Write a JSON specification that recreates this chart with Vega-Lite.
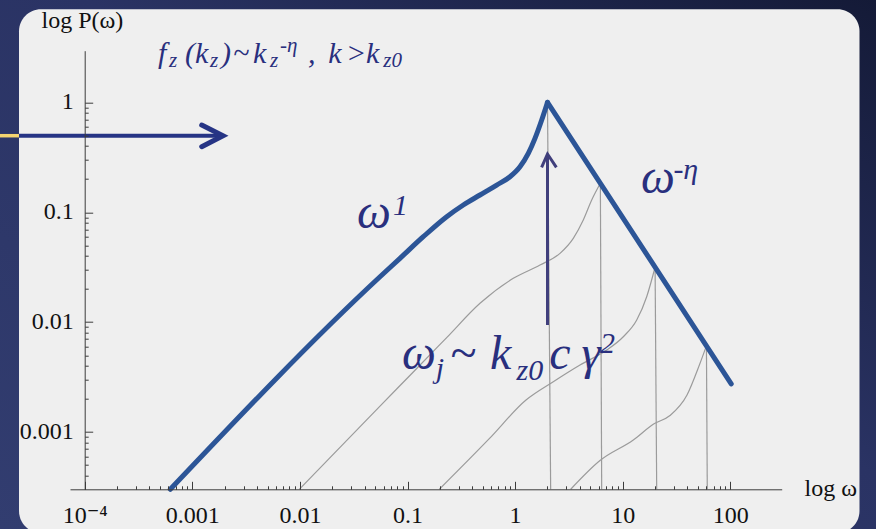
{
  "$schema": "https://vega.github.io/schema/vega-lite/v6.json",
  "width": 711.7,
  "height": 438.6,
  "autosize": {"type": "none"},
  "padding": {"left": 70, "top": 50.7, "right": 94.3, "bottom": 39.7},
  "background": "#283162",
  "config": {
    "view": {"stroke": null},
    "axis": {
      "grid": false,
      "domainColor": "#3c3c3c",
      "domainWidth": 1,
      "tickColor": "#3c3c3c",
      "tickWidth": 1,
      "labelFont": "'Liberation Serif', 'DejaVu Serif', serif",
      "labelFontSize": 24,
      "labelColor": "#111111",
      "labelOverlap": false,
      "labelFlush": false,
      "labelBound": false,
      "titleFont": "'Liberation Serif', 'DejaVu Serif', serif",
      "titleFontSize": 24,
      "titleFontWeight": "normal",
      "titleColor": "#111111"
    }
  },
  "datasets": {
    "backdrop": [{"w": 1.632e-5, "w2": 2260, "p": 8.53, "p2": 0.000131}],
    "panel": [{"w": 2.451e-5, "w2": 1587.6, "p": 7.019, "p2": 0.0001205}],
    "pointers": [
      {"part": "lead", "k": 0, "w": 1.632e-5, "p": 0.4967},
      {"part": "lead", "k": 1, "w": 2.451e-5, "p": 0.4967},
      {"part": "shaft", "k": 0, "w": 2.451e-5, "p": 0.4967},
      {"part": "shaft", "k": 1, "w": 0.001888, "p": 0.4967},
      {"part": "head", "k": 0, "w": 0.0012233, "p": 0.6215},
      {"part": "head", "k": 1, "w": 0.001929, "p": 0.4967},
      {"part": "head", "k": 2, "w": 0.0012233, "p": 0.3945},
      {"part": "rise", "k": 0, "w": 2.0, "p": 0.00941},
      {"part": "rise", "k": 1, "w": 2.0, "p": 0.33},
      {"part": "tip", "k": 0, "w": 1.7633, "p": 0.2562},
      {"part": "tip", "k": 1, "w": 2.0, "p": 0.3385},
      {"part": "tip", "k": 2, "w": 2.4186, "p": 0.2562}
    ],
    "spectrum_rise": [
      {"w": 0.0006245, "p": 0.0003013},
      {"w": 0.05551, "p": 0.02588},
      {"w": 0.08517, "p": 0.03806},
      {"w": 0.1402, "p": 0.05984},
      {"w": 0.2313, "p": 0.09102},
      {"w": 0.3301, "p": 0.1163},
      {"w": 0.4718, "p": 0.1434},
      {"w": 0.6745, "p": 0.1768},
      {"w": 0.8966, "p": 0.2104},
      {"w": 1.1104, "p": 0.2594},
      {"w": 1.3264, "p": 0.3436},
      {"w": 1.5308, "p": 0.4703},
      {"w": 1.7669, "p": 0.6904},
      {"w": 2.0, "p": 1.0}
    ],
    "spectrum_fall": [
      {"w": 2.0, "p": 1.0},
      {"w": 102, "p": 0.002746}
    ],
    "partials": [
      {"j": "A", "w": 0.00987, "p": 0.0003013},
      {"j": "A", "w": 0.05551, "p": 0.00172},
      {"j": "A", "w": 0.1132, "p": 0.00352},
      {"j": "A", "w": 0.2313, "p": 0.00723},
      {"j": "A", "w": 0.4718, "p": 0.01483},
      {"j": "A", "w": 0.9623, "p": 0.02503},
      {"j": "A", "w": 1.7036, "p": 0.03308},
      {"j": "A", "w": 2.6146, "p": 0.04227},
      {"j": "A", "w": 3.474, "p": 0.05788},
      {"j": "A", "w": 4.303, "p": 0.08492},
      {"j": "A", "w": 5.151, "p": 0.1291},
      {"j": "A", "w": 6.2, "p": 0.1832},
      {"j": "B", "w": 0.1975, "p": 0.0003013},
      {"j": "B", "w": 0.5756, "p": 0.00087},
      {"j": "B", "w": 1.2628, "p": 0.001955},
      {"j": "B", "w": 2.2646, "p": 0.002869},
      {"j": "B", "w": 4.0105, "p": 0.004071},
      {"j": "B", "w": 7.1017, "p": 0.005573},
      {"j": "B", "w": 10.13, "p": 0.007364},
      {"j": "B", "w": 13.5, "p": 0.01045},
      {"j": "B", "w": 16.71, "p": 0.01702},
      {"j": "B", "w": 20.0, "p": 0.0316},
      {"j": "C", "w": 3.287, "p": 0.0003013},
      {"j": "C", "w": 6.152, "p": 0.00055},
      {"j": "C", "w": 12.55, "p": 0.000846},
      {"j": "C", "w": 19.38, "p": 0.001183},
      {"j": "C", "w": 27.52, "p": 0.001413},
      {"j": "C", "w": 39.6, "p": 0.002171},
      {"j": "C", "w": 51.6, "p": 0.004071},
      {"j": "C", "w": 60.0, "p": 0.006086}
    ],
    "drops": [
      {"j": "1", "w": 2.0, "p": 1.0},
      {"j": "1", "w": 2.14, "p": 0.0003013},
      {"j": "2", "w": 6.2, "p": 0.1832},
      {"j": "2", "w": 6.38, "p": 0.0003013},
      {"j": "3", "w": 20.0, "p": 0.0316},
      {"j": "3", "w": 20.7, "p": 0.0003013},
      {"j": "4", "w": 60.0, "p": 0.006086},
      {"j": "4", "w": 61.1, "p": 0.0003013}
    ],
    "notes": [
      {"role": "formula", "t": "f", "w": 0.0004799, "p": 2.293},
      {"role": "formula", "t": "(k", "w": 0.0008555, "p": 2.293},
      {"role": "formula", "t": ")", "w": 0.001848, "p": 2.293},
      {"role": "formula", "t": "~", "w": 0.002389, "p": 2.293},
      {"role": "formula", "t": "k", "w": 0.003665, "p": 2.293},
      {"role": "formula", "t": ",", "w": 0.01189, "p": 2.293},
      {"role": "formula", "t": "k", "w": 0.01836, "p": 2.293},
      {"role": "formula", "t": ">", "w": 0.02682, "p": 2.293},
      {"role": "formula", "t": "k", "w": 0.04114, "p": 2.293},
      {"role": "formula-script", "t": "z", "w": 0.0006074, "p": 2.117},
      {"role": "formula-script", "t": "z", "w": 0.001461, "p": 2.117},
      {"role": "formula-script", "t": "z", "w": 0.005274, "p": 2.117},
      {"role": "formula-script", "t": "-η", "w": 0.006531, "p": 2.87},
      {"role": "formula-script", "t": "z0", "w": 0.05958, "p": 2.117},
      {"role": "big", "t": "ω", "w": 0.03394, "p": 0.07183},
      {"role": "big", "t": "ω", "w": 14.8, "p": 0.1495},
      {"role": "big", "t": "ω", "w": 0.08887, "p": 0.003743},
      {"role": "big", "t": "~", "w": 0.2483, "p": 0.003743},
      {"role": "big", "t": "k", "w": 0.5843, "p": 0.003743},
      {"role": "big", "t": "c", "w": 2.082, "p": 0.003743},
      {"role": "big", "t": "γ", "w": 4.13, "p": 0.003743},
      {"role": "big-script", "t": "1", "w": 0.07332, "p": 0.0943},
      {"role": "big-script", "t": "-η", "w": 29.58, "p": 0.2004},
      {"role": "big-script", "t": "j", "w": 0.1832, "p": 0.0031},
      {"role": "big-script", "t": "z0", "w": 1.0304, "p": 0.002973},
      {"role": "big-script", "t": "2", "w": 6.152, "p": 0.005234}
    ]
  },
  "resolve": {"axis": {"x": "independent", "y": "independent"}},
  "layer": [
    {
      "data": {"name": "backdrop"},
      "mark": {
        "type": "rect",
        "fill": {
          "gradient": "linear", "x1": 0, "y1": 1, "x2": 1, "y2": 0,
          "stops": [
            {"offset": 0, "color": "#323d70"},
            {"offset": 0.55, "color": "#2a3364"},
            {"offset": 1, "color": "#141a37"}
          ]
        }
      },
      "encoding": {
        "x": {"field": "w", "type": "quantitative", "scale": {"type": "log", "domain": [7.3e-5, 300.4], "nice": false}, "axis": null},
        "x2": {"field": "w2"},
        "y": {"field": "p", "type": "quantitative", "scale": {"type": "log", "domain": [0.0003013, 2.948], "nice": false}, "axis": null},
        "y2": {"field": "p2"}
      }
    },
    {
      "data": {"name": "panel"},
      "mark": {"type": "rect", "fill": "#efefef", "cornerRadius": 22},
      "encoding": {
        "x": {"field": "w", "type": "quantitative", "scale": {"type": "log", "domain": [7.3e-5, 300.4], "nice": false}, "axis": null},
        "x2": {"field": "w2"},
        "y": {"field": "p", "type": "quantitative", "scale": {"type": "log", "domain": [0.0003013, 2.948], "nice": false}, "axis": null},
        "y2": {"field": "p2"}
      }
    },
    {
      "data": {"name": "pointers"},
      "transform": [{"filter": "datum.part === 'lead'"}],
      "mark": {"type": "line", "color": "#f4d470", "strokeWidth": 3.5},
      "encoding": {
        "x": {"field": "w", "type": "quantitative", "scale": {"type": "log", "domain": [7.3e-5, 300.4], "nice": false}, "axis": null},
        "y": {"field": "p", "type": "quantitative", "scale": {"type": "log", "domain": [0.0003013, 2.948], "nice": false}, "axis": null},
        "order": {"field": "k", "type": "quantitative"}
      }
    },
    {
      "data": {"name": "pointers"},
      "transform": [{"filter": "datum.part === 'shaft'"}],
      "mark": {"type": "line", "color": "#263485", "strokeWidth": 4},
      "encoding": {
        "x": {"field": "w", "type": "quantitative", "scale": {"type": "log", "domain": [7.3e-5, 300.4], "nice": false}, "axis": null},
        "y": {"field": "p", "type": "quantitative", "scale": {"type": "log", "domain": [0.0003013, 2.948], "nice": false}, "axis": null},
        "order": {"field": "k", "type": "quantitative"}
      }
    },
    {
      "data": {"name": "pointers"},
      "transform": [{"filter": "datum.part === 'head'"}],
      "mark": {"type": "line", "color": "#263485", "strokeWidth": 5, "strokeJoin": "miter", "strokeCap": "round"},
      "encoding": {
        "x": {"field": "w", "type": "quantitative", "scale": {"type": "log", "domain": [7.3e-5, 300.4], "nice": false}, "axis": null},
        "y": {"field": "p", "type": "quantitative", "scale": {"type": "log", "domain": [0.0003013, 2.948], "nice": false}, "axis": null},
        "order": {"field": "k", "type": "quantitative"}
      }
    },
    {
      "data": {"name": "partials"},
      "mark": {"type": "line", "color": "#9b9b9b", "strokeWidth": 1.2, "interpolate": "monotone"},
      "encoding": {
        "x": {
          "field": "w", "type": "quantitative",
          "scale": {"type": "log", "domain": [7.3e-5, 300.4], "nice": false},
          "axis": {
            "orient": "bottom", "zindex": 1, "labels": false, "domain": false, "title": null, "tickSize": -3.5,
            "values": [0.0002, 0.0003, 0.0004, 0.0005, 0.0006, 0.0007, 0.0008, 0.0009,
                       0.002, 0.003, 0.004, 0.005, 0.006, 0.007, 0.008, 0.009,
                       0.02, 0.03, 0.04, 0.05, 0.06, 0.07, 0.08, 0.09,
                       0.2, 0.3, 0.4, 0.5, 0.6, 0.7, 0.8, 0.9,
                       2, 3, 4, 5, 6, 7, 8, 9,
                       20, 30, 40, 50, 60, 70, 80, 90]
          }
        },
        "y": {
          "field": "p", "type": "quantitative",
          "scale": {"type": "log", "domain": [0.0003013, 2.948], "nice": false},
          "axis": {
            "orient": "left", "zindex": 1, "offset": -14.7, "labels": false, "domain": false, "title": null, "tickSize": -3.5,
            "values": [0.0004, 0.0005, 0.0006, 0.0007, 0.0008, 0.0009,
                       0.002, 0.003, 0.004, 0.005, 0.006, 0.007, 0.008, 0.009,
                       0.02, 0.03, 0.04, 0.05, 0.06, 0.07, 0.08, 0.09,
                       0.2, 0.3, 0.4, 0.5, 0.6, 0.7, 0.8, 0.9]
          }
        },
        "detail": {"field": "j"}
      }
    },
    {
      "data": {"name": "drops"},
      "mark": {"type": "line", "color": "#9b9b9b", "strokeWidth": 1.2},
      "encoding": {
        "x": {
          "field": "w", "type": "quantitative",
          "scale": {"type": "log", "domain": [7.3e-5, 300.4], "nice": false},
          "axis": {"orient": "bottom", "zindex": 1, "labels": false, "domain": false, "title": null, "tickSize": -8,
                   "values": [0.0001, 0.001, 0.01, 0.1, 1, 10, 100]}
        },
        "y": {
          "field": "p", "type": "quantitative",
          "scale": {"type": "log", "domain": [0.0003013, 2.948], "nice": false},
          "axis": {"orient": "left", "zindex": 1, "offset": -14.7, "labels": false, "domain": false, "title": null, "tickSize": -8,
                   "values": [0.001, 0.01, 0.1, 1]}
        },
        "detail": {"field": "j"}
      }
    },
    {
      "data": {"name": "pointers"},
      "transform": [{"filter": "datum.part === 'rise' || datum.part === 'tip'"}],
      "mark": {"type": "line", "color": "#403f7c", "strokeWidth": 3, "strokeJoin": "miter"},
      "encoding": {
        "x": {"field": "w", "type": "quantitative", "scale": {"type": "log", "domain": [7.3e-5, 300.4], "nice": false}, "axis": null},
        "y": {"field": "p", "type": "quantitative", "scale": {"type": "log", "domain": [0.0003013, 2.948], "nice": false}, "axis": null},
        "detail": {"field": "part"},
        "order": {"field": "k", "type": "quantitative"}
      }
    },
    {
      "data": {"name": "spectrum_rise"},
      "mark": {"type": "line", "color": "#2c5597", "strokeWidth": 5, "interpolate": "monotone", "strokeCap": "round"},
      "encoding": {
        "x": {
          "field": "w", "type": "quantitative",
          "scale": {"type": "log", "domain": [7.3e-5, 300.4], "nice": false},
          "axis": {
            "orient": "bottom", "zindex": 1, "ticks": false, "domain": true,
            "values": [0.0001, 0.001, 0.01, 0.1, 1, 10, 100],
            "labelExpr": "datum.value < 0.0005 ? '10⁻⁴' : format(datum.value, '~g')",
            "labelBaseline": "alphabetic", "labelPadding": 33.4,
            "title": "log ω", "titleAlign": "left", "titleBaseline": "alphabetic",
            "titleX": 734, "titleY": 5.7
          }
        },
        "y": {
          "field": "p", "type": "quantitative",
          "scale": {"type": "log", "domain": [0.0003013, 2.948], "nice": false},
          "axis": {
            "orient": "left", "zindex": 1, "offset": -14.7, "ticks": false, "domain": true,
            "values": [0.001, 0.01, 0.1, 1],
            "format": "~g",
            "labelBaseline": "alphabetic", "labelOffset": 6, "labelPadding": 11.4,
            "title": "log P(ω)", "titleAngle": 0, "titleAlign": "left", "titleBaseline": "alphabetic",
            "titleX": -43.7, "titleY": -23.7
          }
        }
      }
    },
    {
      "data": {"name": "spectrum_fall"},
      "mark": {"type": "line", "color": "#2c5597", "strokeWidth": 5, "strokeCap": "round"},
      "encoding": {
        "x": {"field": "w", "type": "quantitative", "scale": {"type": "log", "domain": [7.3e-5, 300.4], "nice": false}, "axis": null},
        "y": {"field": "p", "type": "quantitative", "scale": {"type": "log", "domain": [0.0003013, 2.948], "nice": false}, "axis": null}
      }
    },
    {
      "data": {"name": "notes"},
      "transform": [{"filter": "datum.role === 'formula'"}],
      "mark": {"type": "text", "font": "'Liberation Serif', 'DejaVu Serif', serif", "fontStyle": "italic", "fontSize": 30, "color": "#292f7e", "align": "left", "baseline": "alphabetic"},
      "encoding": {
        "x": {"field": "w", "type": "quantitative", "scale": {"type": "log", "domain": [7.3e-5, 300.4], "nice": false}, "axis": null},
        "y": {"field": "p", "type": "quantitative", "scale": {"type": "log", "domain": [0.0003013, 2.948], "nice": false}, "axis": null},
        "text": {"field": "t"}
      }
    },
    {
      "data": {"name": "notes"},
      "transform": [{"filter": "datum.role === 'formula-script'"}],
      "mark": {"type": "text", "font": "'Liberation Serif', 'DejaVu Serif', serif", "fontStyle": "italic", "fontSize": 21, "color": "#292f7e", "align": "left", "baseline": "alphabetic"},
      "encoding": {
        "x": {"field": "w", "type": "quantitative", "scale": {"type": "log", "domain": [7.3e-5, 300.4], "nice": false}, "axis": null},
        "y": {"field": "p", "type": "quantitative", "scale": {"type": "log", "domain": [0.0003013, 2.948], "nice": false}, "axis": null},
        "text": {"field": "t"}
      }
    },
    {
      "data": {"name": "notes"},
      "transform": [{"filter": "datum.role === 'big'"}],
      "mark": {"type": "text", "font": "'Liberation Serif', 'DejaVu Serif', serif", "fontStyle": "italic", "fontSize": 48, "color": "#292f7e", "align": "left", "baseline": "alphabetic"},
      "encoding": {
        "x": {"field": "w", "type": "quantitative", "scale": {"type": "log", "domain": [7.3e-5, 300.4], "nice": false}, "axis": null},
        "y": {"field": "p", "type": "quantitative", "scale": {"type": "log", "domain": [0.0003013, 2.948], "nice": false}, "axis": null},
        "text": {"field": "t"}
      }
    },
    {
      "data": {"name": "notes"},
      "transform": [{"filter": "datum.role === 'big-script'"}],
      "mark": {"type": "text", "font": "'Liberation Serif', 'DejaVu Serif', serif", "fontStyle": "italic", "fontSize": 30, "color": "#292f7e", "align": "left", "baseline": "alphabetic"},
      "encoding": {
        "x": {"field": "w", "type": "quantitative", "scale": {"type": "log", "domain": [7.3e-5, 300.4], "nice": false}, "axis": null},
        "y": {"field": "p", "type": "quantitative", "scale": {"type": "log", "domain": [0.0003013, 2.948], "nice": false}, "axis": null},
        "text": {"field": "t"}
      }
    }
  ]
}
